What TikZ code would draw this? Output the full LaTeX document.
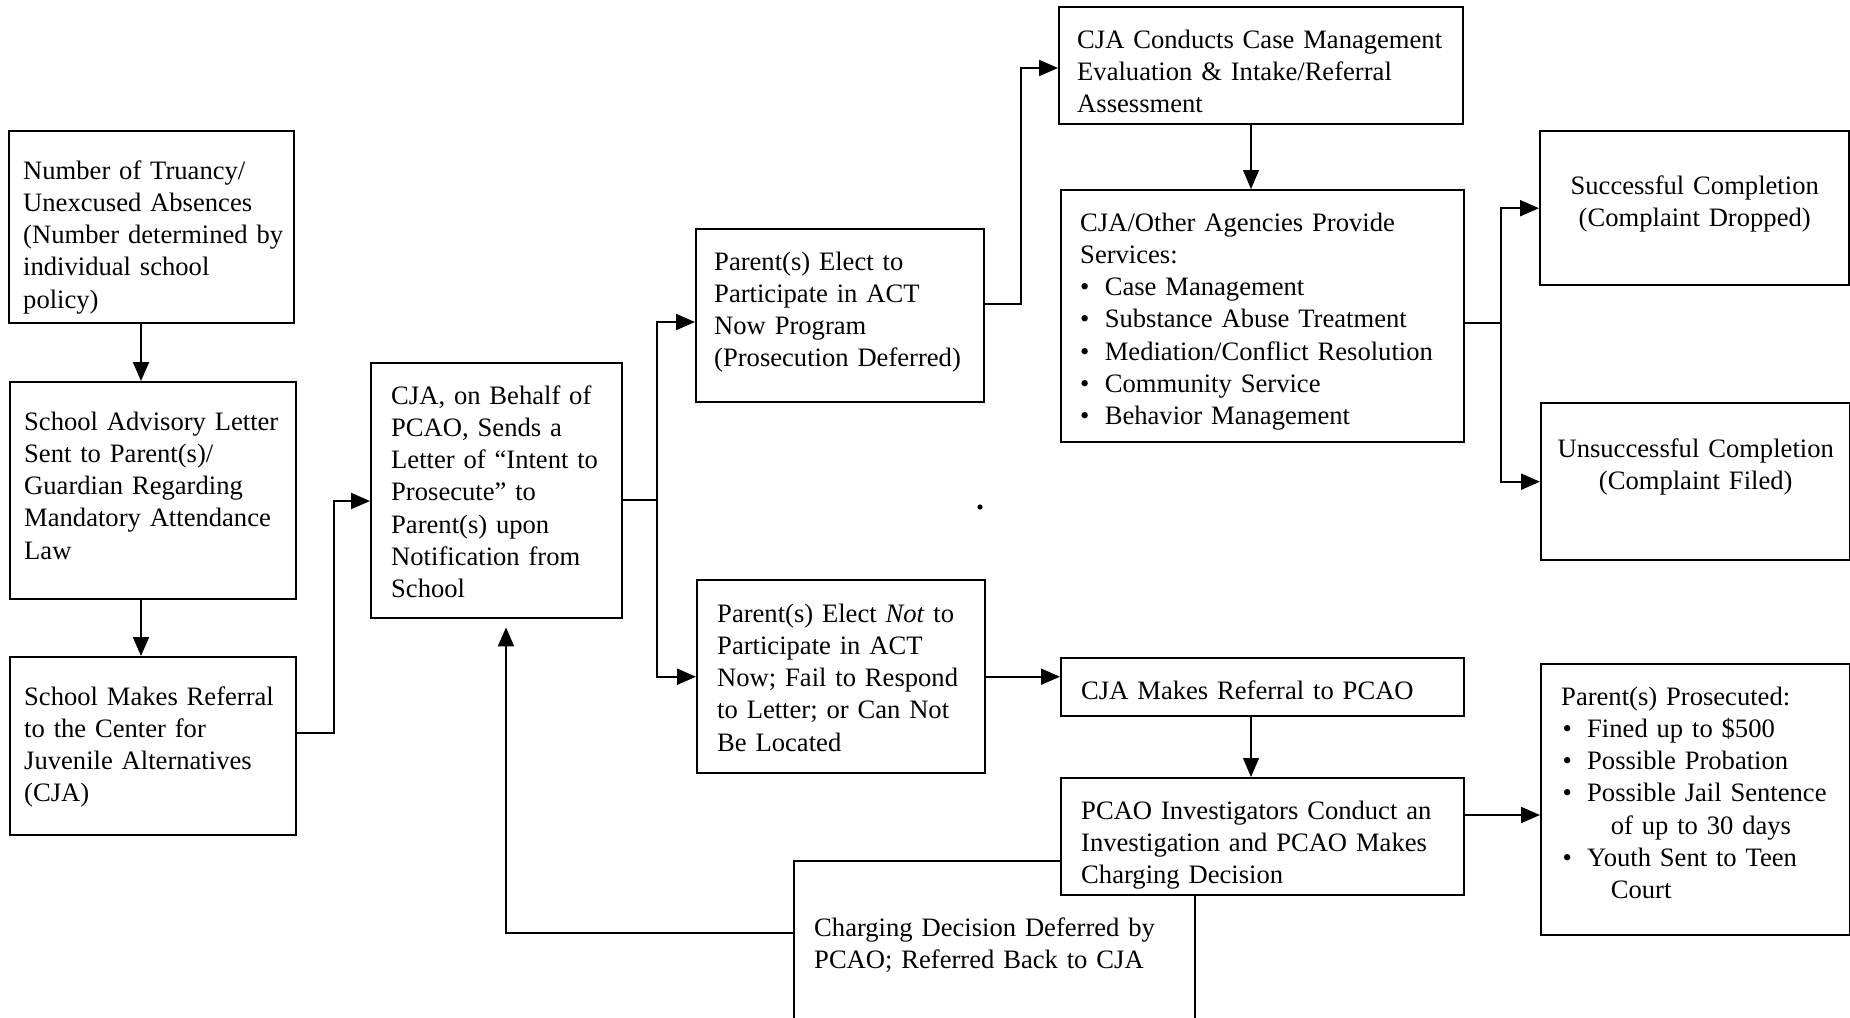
\documentclass[tikz,border=0pt]{standalone}
\usepackage{fontspec}
\setmainfont{Liberation Serif}
\usetikzlibrary{arrows.meta}
\newcommand{\itm}[1]{\hspace*{#1}\makebox[12.3pt][l]{\textbullet}}
\tikzset{
  % flowchart box, text hung from the top edge
  box/.style={
    draw, line width=1.2pt, fill=white,
    anchor=north west, align=left, inner ysep=0pt,
    font=\fontsize{13.3}{16.1}\selectfont
  },
  % box with centred lines
  cbox/.style={box, align=center},
  % connectors
  link/.style={line width=1pt},
  arr/.style={link, -{Triangle[length=9.5pt,width=8pt]}},
  thinarr/.style={arr, line width=0.6pt},
}

\begin{document}
\begin{tikzpicture}[x=0.5pt, y=-0.5pt]
\useasboundingbox (0,0) rectangle (1850,1017);
\clip (0,0) rectangle (1850,1017);

% ── Column 1: school ─────────────────────────────────────────────────────────
\node[box, inner xsep=4pt, text width=134.5pt, text height=24pt, text depth=72pt]
  (trua) at (8,130)
  {\hspace*{3pt}Number of Truancy/\\\hspace*{3pt}Unexcused Absences\\\hspace*{3pt}(Number determined by\\\hspace*{3pt}individual school\\\hspace*{3pt}policy)};
\node[box, inner xsep=7pt, text width=129pt, text height=24pt, text depth=84.5pt]
  (advis) at (9,381)
  {School Advisory Letter\\Sent to Parent(s)/\\Guardian Regarding\\Mandatory Attendance\\Law};
\node[box, inner xsep=7pt, text width=129pt, text height=24pt, text depth=65pt]
  (refer) at (9,656)
  {School Makes Referral\\to the Center for\\Juvenile Alternatives\\(CJA)};

% ── Column 2: letter ─────────────────────────────────────────────────────────
\node[box, inner xsep=10pt, text width=105.5pt, text height=20.5pt, text depth=107pt]
  (intent) at (370,362)
  {CJA, on Behalf of\\PCAO, Sends a\\Letter of ``Intent to\\Prosecute'' to\\Parent(s) upon\\Notification from\\School};

% ── Column 3: parents' choice ────────────────────────────────────────────────
\node[box, inner xsep=9pt, text width=126pt, text height=20.5pt, text depth=66pt]
  (elect) at (695,228)
  {Parent(s) Elect to\\Participate in ACT\\Now Program\\(Prosecution Deferred)};
\node[box, inner xsep=10pt, text width=124pt, text height=21pt, text depth=75.5pt]
  (notel) at (696,579)
  {Parent(s) Elect \textit{Not} to\\Participate in ACT\\Now; Fail to Respond\\to Letter; or Can Not\\Be Located};

% ── Column 4: ACT Now branch ─────────────────────────────────────────────────
\node[box, inner xsep=9pt, text width=184pt, text height=20.5pt, text depth=38pt]
  (evalu) at (1058,6)
  {CJA Conducts Case Management\\Evaluation \& Intake/Referral\\Assessment};
\node[box, inner xsep=9.5pt, text width=182.5pt, text height=20.5pt, text depth=105.5pt]
  (servi) at (1060,189)
  {CJA/Other Agencies Provide\\Services:\\
   \itm{0pt}Case Management\\
   \itm{0pt}Substance Abuse Treatment\\
   \itm{0pt}Mediation/Conflict Resolution\\
   \itm{0pt}Community Service\\
   \itm{0pt}Behavior Management};

% ── Column 4: prosecution branch ─────────────────────────────────────────────
\node[box, inner xsep=10pt, text width=181.5pt, text height=20.5pt, text depth=8.5pt]
  (pcao) at (1060,657) {CJA Makes Referral to PCAO};
\node[box, inner xsep=10pt, text width=180.5pt, text height=37.5pt, text depth=50pt]
  (defer) at (793,860)
  {Charging Decision Deferred by\\PCAO; Referred Back to CJA};
\node[box, inner xsep=10pt, text width=181.5pt, text height=20.5pt, text depth=38pt]
  (invest) at (1060,777)
  {PCAO Investigators Conduct an\\Investigation and PCAO Makes\\Charging Decision};

% ── Column 5: outcomes ───────────────────────────────────────────────────────
\node[cbox, inner xsep=5pt, text width=144.5pt, text height=31.5pt, text depth=45.5pt]
  (succ) at (1539,130) {Successful Completion\\(Complaint Dropped)};
\node[cbox, inner xsep=5pt, text width=144.5pt, text height=27pt, text depth=51.5pt]
  (unsucc) at (1540,402) {Unsuccessful Completion\\(Complaint Filed)};
\node[box, inner xsep=10pt, text width=134.5pt, text height=20.5pt, text depth=115pt]
  (prosec) at (1540,663)
  {Parent(s) Prosecuted:\\
   \itm{0.7pt}Fined up to \$500\\
   \itm{0.7pt}Possible Probation\\
   \itm{0.7pt}Possible Jail Sentence\\
   \hspace*{24.8pt}of up to 30 days\\
   \itm{0.7pt}Youth Sent to Teen\\
   \hspace*{24.8pt}Court};

% ── Elbow points ─────────────────────────────────────────────────────────────
\coordinate (c1) at (141,0);
\coordinate (c2a) at (334,733);
\coordinate (c2b) at (334,501);
\coordinate (c3) at (657,500);
\coordinate (c3a) at (657,322);
\coordinate (c4a) at (1021,304);
\coordinate (c4b) at (1021,68);
\coordinate (c5) at (1251,0);
\coordinate (c6) at (1501,323);
\coordinate (c7) at (0,815);
\coordinate (c8) at (506,933);

% ── Arrows ───────────────────────────────────────────────────────────────────
\draw[arr] (trua.south -| c1) -- (advis.north -| c1);
\draw[arr] (advis.south -| c1) -- (refer.north -| c1);
\draw[arr] (refer.east |- c2a) -- (c2a) -- (c2b) -- (intent.west |- c2b);

\draw[link] (intent.east |- c3) -- (c3);
\draw[arr] (c3) -- (c3a) -- (elect.west |- c3a);
\draw[arr] (c3) |- (notel.west);

\draw[arr] (elect.east |- c4a) -- (c4a) -- (c4b) -- (evalu.west |- c4b);
\draw[thinarr] (evalu.south -| c5) -- (servi.north -| c5);
\draw[link] (servi.east |- c6) -- (c6);
\draw[arr] (c6) |- (succ.west);
\draw[arr] (c6) |- (unsucc.west);

\draw[arr] (notel.east) -- (notel.east -| pcao.west);
\draw[thinarr] (pcao.south -| c5) -- (invest.north -| c5);
\draw[arr] (invest.east |- c7) -- (prosec.west |- c7);
\draw[arr, shorten >=4pt] (defer.west |- c8) -| (intent.south -| c8);

\fill (980,507) circle[radius=1.3pt];

\end{tikzpicture}
\end{document}
